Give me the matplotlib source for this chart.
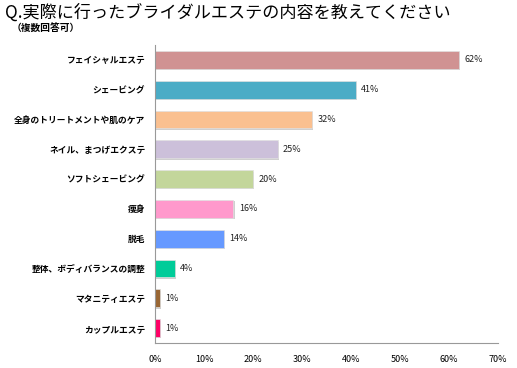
import matplotlib.pyplot as plt
import matplotlib.patheffects as pe

plt.rcParams['font.family'] = ['Noto Sans CJK JP', 'DejaVu Sans']

# Data
categories = ['フェイシャルエステ', 'シェービング', '全身のトリートメントや肌のケア',
              'ネイル、まつげエクステ', 'ソフトシェービング', '痩身', '脱毛',
              '整体、ボディバランスの調整', 'マタニティエステ', 'カップルエステ']
values = [62, 41, 32, 25, 20, 16, 14, 4, 1, 1]
colors = ['#d09292', '#4bacc6', '#fac090', '#ccc0da', '#c3d69b',
          '#ff99cc', '#6699ff', '#00cc99', '#996633', '#ff0066']
xticks = [0, 10, 20, 30, 40, 50, 60, 70]

fig = plt.figure(figsize=(5.17, 3.68), dpi=100)
ax = fig.add_axes([155/517, 1 - 343/368, (498-155)/517, (343-45)/368])

ypos = list(range(len(categories)))[::-1]
bars = ax.barh(ypos, values, height=0.6, color=colors, edgecolor='#e0e0e0', linewidth=0.5)
for b in bars:
    b.set_path_effects([pe.SimplePatchShadow(offset=(1, -1), shadow_rgbFace='#b0b0b0', alpha=0.6), pe.Normal()])

for y, v in zip(ypos, values):
    ax.text(v + 1.1, y, '%d%%' % v, va='center', ha='left', fontsize=6.5, color='#222222')

ax.set_xlim(0, 70)
ax.set_ylim(-0.5, len(categories) - 0.5)
ax.set_xticks(xticks)
ax.set_xticklabels(['%d%%' % t for t in xticks], fontsize=6.5)
ax.set_yticks(ypos)
ax.set_yticklabels(categories, fontsize=6.3, fontweight='bold')
ax.tick_params(axis='both', length=0, pad=9)
ax.tick_params(axis='y', pad=7)
for s in ['top', 'right']:
    ax.spines[s].set_visible(False)
for s in ['left', 'bottom']:
    ax.spines[s].set_color('#999999')
    ax.spines[s].set_linewidth(0.8)

fig.text(5/517, 1 - 12.5/368, 'Q.実際に行ったブライダルエステの内容を教えてください',
         fontsize=12.3, va='center', ha='left')
fig.text(12/517, 1 - 27.5/368, '（複数回答可）', fontsize=7, fontweight='bold',
         va='center', ha='left')

fig.savefig('out.png', dpi=100)
